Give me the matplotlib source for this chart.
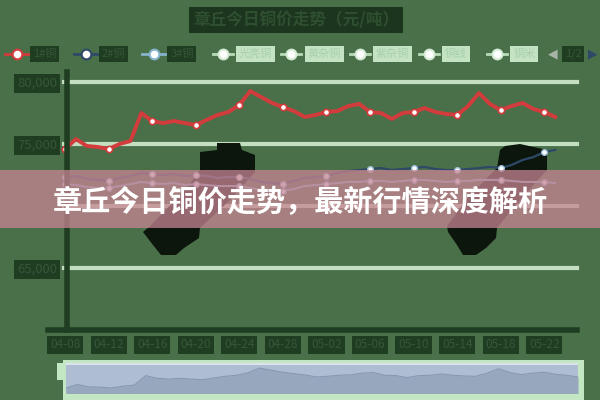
import matplotlib
matplotlib.use('Agg')
import matplotlib.pyplot as plt
import pandas as pd
from matplotlib.patches import Rectangle, Polygon
from matplotlib.lines import Line2D

plt.rcParams['font.family'] = ['Noto Sans CJK SC', 'DejaVu Sans']

# 数据（元/吨）
dates = list(pd.date_range('2024-04-08', periods=46).strftime('%m-%d'))
red_vals = [74600, 75400, 74840, 74760, 74600, 75000, 75240, 77500, 76850, 76690,
            76850, 76690, 76530, 76940, 77340, 77580, 78150, 79270, 78790, 78310,
            77980, 77660, 77180, 77340, 77580, 77660, 78060, 78230, 77580, 77500,
            77020, 77500, 77580, 77900, 77580, 77420, 77340, 78060, 79110, 78230,
            77740, 78060, 78310, 77820, 77580, 77180]
navy_vals = [72340, 72420, 72180, 72100, 72020, 72260, 72420, 72660, 72580, 72500,
             72580, 72420, 72500, 72420, 72260, 72340, 72340, 72180, 71940, 71850,
             71770, 72020, 72260, 72340, 72420, 72660, 72820, 72900, 72980, 73060,
             72900, 72980, 73060, 73150, 72980, 72900, 72900, 72980, 73060, 73150,
             73060, 73310, 73710, 73950, 74350, 74520]
blue_vals = [71770, 71690, 71530, 71450, 71450, 71610, 71770, 71940, 71850, 71770,
             71850, 71690, 71770, 71690, 71610, 71610, 71610, 71450, 71290, 71210,
             71210, 71370, 71610, 71690, 71770, 71850, 71940, 71940, 72020, 72020,
             71940, 72020, 72100, 72100, 72020, 71940, 72020, 72020, 72100, 72100,
             72100, 72020, 71940, 71940, 71940, 71850]
active_names = ['1#铜', '2#铜', '3#铜']
inactive_names = ['光亮铜', '黄杂铜', '紫杂铜', '铜线', '铜米']
y_ticks = [65000, 70000, 75000, 80000]

BG = '#4a704a'
GRID = '#c3dec0'
DARK = '#1f3d21'
RED = '#d23c3c'
NAVY = '#2e4868'
LBLUE = '#86b4cc'

W, H = 600, 400
def fx(x):
    return x / W
def fy(y):
    return 1 - y / H

fig = plt.figure(figsize=(6, 4), dpi=100, facecolor=BG)

# 主图
ax = fig.add_axes([fx(64), fy(330), (577 - 64) / W, (330 - 82) / H])
ax.set_facecolor(BG)
x = list(range(len(dates)))
ax.set_xlim(-0.1, 47.0)
ax.set_ylim(60000, 80000)
for s in ax.spines.values():
    s.set_visible(False)
for v in y_ticks:
    ax.axhline(v, color=GRID, lw=3, clip_on=False, zorder=1)

ax.plot(x, blue_vals, color=LBLUE, lw=1.5, marker='o', markevery=4, ms=4,
        mfc='white', mec=LBLUE, mew=1, clip_on=False, zorder=3)
ax.plot(x, navy_vals, color=NAVY, lw=1.6, marker='o', markevery=4, ms=4,
        mfc='white', mec='#9fc4dc', mew=1, clip_on=False, zorder=4)
ax.plot(x, red_vals, color=RED, lw=2.8, marker='o', markevery=4, ms=4.5,
        mfc='white', mec=RED, mew=1.2, clip_on=False, zorder=5)

# 70000 的刻度标签被横幅遮住
ax.set_yticks(y_ticks)
ax.set_yticklabels([f'{v:,}' if v != 70000 else '' for v in y_ticks])
ax.set_xticks(x[::4])
ax.set_xticklabels(dates[::4])
ax.tick_params(length=0)
ax.tick_params(axis='y', pad=5, labelsize=9.5, labelcolor='#35583a')
ax.tick_params(axis='x', pad=6, labelsize=8.5, labelcolor='#35583a')
for lab in ax.get_yticklabels() + ax.get_xticklabels():
    if lab.get_text():
        lab.set_bbox(dict(facecolor=DARK, edgecolor='none', pad=2))

# 暗色块
blobs = [
    [(217, 143), (240, 143), (242, 150), (255, 155), (255, 172), (230, 200),
     (200, 228), (199, 238), (184, 248), (176, 255), (161, 255), (153, 245),
     (143, 232), (150, 226), (185, 190), (200, 170), (200, 152), (217, 150)],
    [(505, 146), (520, 144), (547, 150), (547, 170), (520, 200), (497, 228),
     (496, 238), (486, 248), (476, 255), (463, 255), (457, 245), (448, 232),
     (447, 226), (470, 195), (497, 168), (500, 150)],
]
for pts in blobs:
    ax.add_patch(Polygon([(fx(a), fy(b)) for a, b in pts], closed=True,
                         transform=fig.transFigure, facecolor='#0c160c',
                         edgecolor='none', clip_on=False, zorder=2))

# 坐标轴线
fig.add_artist(Line2D([fx(67), fx(67)], [fy(72), fy(330)], color=DARK, lw=4))
fig.add_artist(Line2D([fx(48), fx(577)], [fy(330), fy(330)], color=DARK, lw=4))

# 标题
fig.text(fx(296), fy(20), '章丘今日铜价走势（元/吨）', ha='center', va='center',
         fontsize=12, fontweight='bold', color='#2f4f31',
         bbox=dict(facecolor='#1c351e', edgecolor='none', pad=3))

# 图例
leg_y = fy(54)
colors = [RED, NAVY, LBLUE]
for i, name in enumerate(active_names + inactive_names):
    cx = 17 + i * 68.6
    if i < 3:
        c = colors[i]
        fig.add_artist(Line2D([fx(cx - 12), fx(cx + 12)], [leg_y, leg_y], color=c, lw=2))
        fig.add_artist(Line2D([fx(cx)], [leg_y], marker='o', ms=7, mfc='white', mec=c, mew=1.5))
        fig.text(fx(cx + 16), leg_y, name, ha='left', va='center', fontsize=8,
                 color='#35583a', bbox=dict(facecolor=DARK, edgecolor='none', pad=2))
    else:
        fig.add_artist(Line2D([fx(cx - 10), fx(cx + 10)], [leg_y, leg_y], color='#b9dcb9', lw=2))
        fig.add_artist(Line2D([fx(cx)], [leg_y], marker='o', ms=7, mfc='white', mec='#d6ecd6', mew=1.5))
        fig.text(fx(cx + 16), leg_y, name, ha='left', va='center', fontsize=8,
                 color='#a9cfa9', bbox=dict(facecolor='#c3e3c3', edgecolor='none', pad=2))

fig.text(fx(553), leg_y, '◀', ha='center', va='center', fontsize=9, color='#a8b4a8',
         family='DejaVu Sans')
fig.text(fx(573), leg_y, '1/2', ha='center', va='center', fontsize=8, color='#35583a',
         bbox=dict(facecolor=DARK, edgecolor='none', pad=2))
fig.text(fx(593), leg_y, '▶', ha='center', va='center', fontsize=9, color=NAVY,
         family='DejaVu Sans')

# 缩放条
fig.add_artist(Rectangle((fx(63), fy(400)), (584 - 63) / W, 40 / H,
                         transform=fig.transFigure, facecolor='#c3e6c3',
                         edgecolor='none', zorder=0.5))
fig.add_artist(Rectangle((fx(57), fy(380)), 9 / W, 17 / H,
                         transform=fig.transFigure, facecolor='#c3e6c3',
                         edgecolor='none', zorder=0.5))
sx = fig.add_axes([fx(66), fy(393), (578 - 66) / W, 30 / H])
sx.set_zorder(2)
sx.set_facecolor('#aebdd2')
sx.fill_between(x, red_vals, 60000, color='#97a7bd', lw=0)
sx.plot(x, red_vals, color='#8898b0', lw=0.8)
sx.set_xlim(0, len(x) - 1)
sx.set_ylim(73400, 80470)
sx.set_xticks([])
sx.set_yticks([])
for s in sx.spines.values():
    s.set_visible(False)
sx.axhline(80300, color='#e4ebf3', lw=1.2)

# 横幅
fig.add_artist(Rectangle((0, fy(228)), 1, 58 / H, transform=fig.transFigure,
                         facecolor='#c78593', alpha=0.75, edgecolor='none', zorder=10))
fig.text(0.5, fy(202), '章丘今日铜价走势，最新行情深度解析', ha='center', va='center',
         fontsize=21, fontweight='bold', color='white', zorder=11)

fig.savefig('out.png', dpi=100, facecolor=BG)
